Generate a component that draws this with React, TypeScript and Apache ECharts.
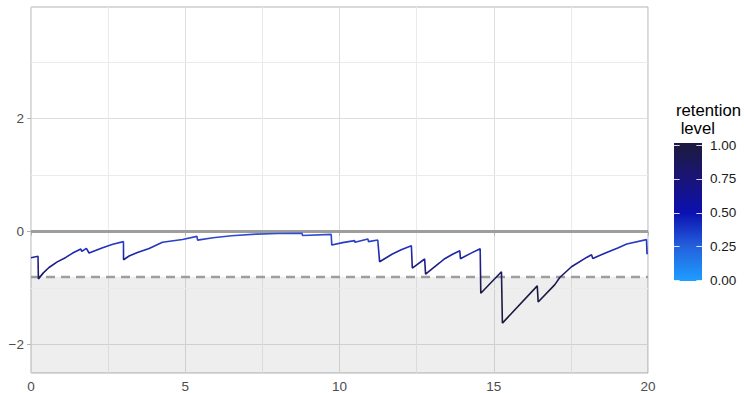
import React, { useEffect, useRef } from "react";
import * as echarts from "echarts";

// ---- data ----
const time = [0, 0.227, 0.24, 0.4, 0.584, 0.85, 1.127, 1.35, 1.614, 1.646, 1.795, 1.883, 2.3, 2.65, 2.997, 3.0, 3.18, 3.45, 3.83, 4.26, 4.91, 5.38, 5.40, 5.9, 6.5, 7.3, 8.0, 8.79, 8.80, 9.73, 9.75, 10.1, 10.49, 10.50, 10.92, 10.94, 11.24, 11.30, 11.7, 12.0, 12.33, 12.36, 12.76, 12.79, 13.25, 13.41, 13.65, 13.90, 13.92, 14.25, 14.56, 14.58, 15.25, 15.28, 16.41, 16.44, 16.98, 17.14, 17.52, 18.01, 18.17, 18.21, 18.66, 19.04, 19.31, 19.95, 19.97];
const value = [-0.462, -0.436, -0.836, -0.73, -0.635, -0.535, -0.457, -0.38, -0.308, -0.35, -0.297, -0.379, -0.29, -0.225, -0.178, -0.498, -0.432, -0.37, -0.3, -0.19, -0.14, -0.085, -0.151, -0.11, -0.075, -0.045, -0.035, -0.03, -0.07, -0.05, -0.236, -0.195, -0.16, -0.19, -0.13, -0.178, -0.148, -0.533, -0.4, -0.32, -0.249, -0.645, -0.485, -0.752, -0.551, -0.48, -0.405, -0.338, -0.48, -0.385, -0.302, -1.09, -0.711, -1.618, -0.96, -1.244, -0.937, -0.812, -0.622, -0.457, -0.409, -0.475, -0.368, -0.284, -0.219, -0.142, -0.4];

const xTicks = [0, 5, 10, 15, 20];
const yTicks = [-2, 0, 2];
const yMinorGrid = [-1, 1, 3];
const thresholdLevel = -0.8;
const zeroLevel = 0;

const legendTitle = "retention\n level";
const legendLevels = [0, 0.25, 0.5, 0.75, 1];
const legendLabels = ["0.00", "0.25", "0.50", "0.75", "1.00"];
const legendColors = ["#1e9cff", "#2460dc", "#0b10b0", "#1a1478", "#1c1a3f"];
const lineColors = ["#1c1a3f", "#1f1a78", "#1f2ab4", "#3352d8"];

const FONT = "'Liberation Sans', Arial, Helvetica, sans-serif";
const X_MIN = 0, X_MAX = 20, Y_MIN = -2.5, Y_MAX = 3.97;

export default function App() {
  const ref = useRef<HTMLDivElement>(null);
  useEffect(() => {
    if (!ref.current) return;
    const chart = echarts.init(ref.current, undefined, { renderer: "svg" });

    const barX = 674, barW = 28, barTop = 143, barBottom = 281;
    const v1Y = 145, v0Y = 280;
    const levelY = (v: number) => v0Y - v * (v0Y - v1Y);

    const graphics: any[] = [
      {
        type: "text",
        x: 676,
        y: 101,
        style: { text: legendTitle, fontSize: 16.7, fontFamily: FONT, fill: "#000", lineHeight: 18, verticalAlign: "top" },
      },
      {
        type: "rect",
        shape: { x: barX, y: barTop, width: barW, height: barBottom - barTop },
        style: {
          fill: new echarts.graphic.LinearGradient(0, 1, 0, 0,
            legendLevels.map((lv, i) => ({ offset: (levelY(lv) - barBottom) / (barTop - barBottom), color: legendColors[i] }))
              .map((s) => ({ offset: Math.min(1, Math.max(0, s.offset)), color: s.color }))),
        },
      },
    ];
    legendLevels.forEach((lv, i) => {
      const y = Math.round(levelY(lv)) + 0.5;
      graphics.push({ type: "line", shape: { x1: barX, y1: y, x2: barX + 5.6, y2: y }, style: { stroke: "rgba(255,255,255,0.85)", lineWidth: 1 } });
      graphics.push({ type: "line", shape: { x1: barX + barW - 5.6, y1: y, x2: barX + barW, y2: y }, style: { stroke: "rgba(255,255,255,0.85)", lineWidth: 1 } });
      graphics.push({
        type: "text", x: 710, y: levelY(lv),
        style: { text: legendLabels[i], fontSize: 13.5, fontFamily: FONT, fill: "#1a1a1a", verticalAlign: "middle" },
      });
    });

    chart.setOption({
      animation: false,
      backgroundColor: "#fff",
      textStyle: { fontFamily: FONT },
      grid: { left: 31, right: 96, top: 7, bottom: 20, show: true, borderColor: "#B3B3B3", borderWidth: 1, backgroundColor: "transparent", containLabel: false },
      xAxis: {
        type: "value", min: X_MIN, max: X_MAX, interval: 5,
        axisLine: { show: false },
        axisTick: { show: true, length: 4, lineStyle: { color: "#B3B3B3" }, customValues: xTicks },
        axisLabel: { color: "#4D4D4D", fontSize: 13.5, margin: 6, fontFamily: FONT, customValues: xTicks },
        splitLine: { show: true, lineStyle: { color: "#DEDEDE", width: 1 } },
        minorTick: { show: false, splitNumber: 2 },
        minorSplitLine: { show: true, lineStyle: { color: "#EBEBEB", width: 1 } },
      },
      yAxis: {
        type: "value", min: Y_MIN, max: Y_MAX, splitNumber: 3,
        axisLine: { show: false },
        axisTick: { show: true, length: 4, lineStyle: { color: "#B3B3B3" }, customValues: yTicks },
        axisLabel: {
          color: "#4D4D4D", fontSize: 13.5, margin: 7, fontFamily: FONT, customValues: yTicks,
          formatter: (v: number) => (v < 0 ? "\u2212" + Math.abs(v) : String(v)),
        },
        splitLine: { show: true, lineStyle: { color: "#DEDEDE", width: 1 } },
      },
      visualMap: {
        type: "continuous", show: false, seriesIndex: 0, dimension: 1,
        min: -1, max: 0,
        inRange: { color: lineColors },
        outOfRange: { color: lineColors[0] },
      },
      graphic: graphics,
      series: [
        {
          type: "line",
          data: time.map((t, i) => [t, value[i]]),
          showSymbol: false,
          symbol: "none",
          lineStyle: { width: 1.6 },
          z: 5,
        },
        {
          type: "line",
          data: [],
          z: 1,
          silent: true,
          markArea: {
            silent: true,
            itemStyle: { color: "rgba(0,0,0,0.065)" },
            data: [[{ yAxis: thresholdLevel }, { yAxis: Y_MIN }]],
          },
          markLine: {
            silent: true,
            symbol: ["none", "none"],
            label: { show: false },
            data: [
              ...yMinorGrid.map((g) => ({ yAxis: g, lineStyle: { color: "#EBEBEB", width: 1, type: "solid" } })),
              { yAxis: zeroLevel, lineStyle: { color: "#9E9E9E", width: 2.8, type: "solid" } },
              { yAxis: thresholdLevel, lineStyle: { color: "#9E9E9E", width: 2.3, type: [9, 6] } },
            ],
          },
        },
      ],
    });
    return () => chart.dispose();
  }, []);
  return <div ref={ref} style={{ position: "fixed", left: 0, top: 0, width: 744, height: 393 }} />;
}
